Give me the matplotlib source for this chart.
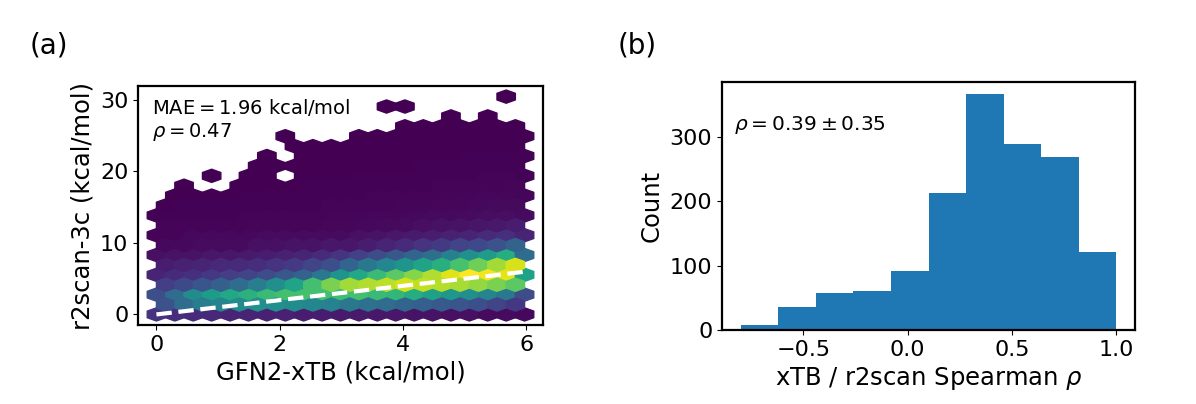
import numpy as np
import matplotlib
matplotlib.use('Agg')
import matplotlib.pyplot as plt

# panel (a): hexbin counts, one list per hexagon row from the bottom up
# (even rows are the main lattice, 21 cells; odd rows the offset lattice, 20 cells)
hex_rows = [
    [151, 131, 121, 111, 101, 101, 91, 91, 81, 81, 71, 71, 61, 61, 51, 51, 41, 41, 31, 31, 21],
    [251, 351, 421, 451, 481, 500, 500, 481, 461, 441, 401, 371, 351, 321, 301, 281, 261, 241, 201, 161],
    [241, 351, 481, 550, 600, 640, 680, 700, 700, 700, 690, 700, 680, 660, 620, 570, 530, 500, 450, 400, 231],
    [181, 221, 261, 301, 351, 421, 500, 580, 700, 800, 860, 880, 900, 930, 910, 890, 870, 840, 800, 750],
    [101, 121, 141, 161, 181, 201, 231, 271, 311, 400, 520, 600, 680, 750, 820, 880, 950, 1000, 980, 960, 570],
    [81, 91, 101, 111, 121, 131, 151, 171, 201, 241, 321, 400, 460, 520, 580, 630, 710, 780, 860, 940],
    [41, 51, 51, 61, 61, 71, 81, 91, 101, 121, 151, 191, 231, 271, 321, 361, 431, 500, 550, 620, 351],
    [21, 21, 31, 31, 31, 41, 41, 51, 51, 61, 61, 81, 101, 121, 151, 171, 201, 221, 251, 311],
    [11, 11, 21, 21, 21, 21, 31, 31, 31, 31, 31, 41, 51, 61, 71, 81, 91, 101, 121, 141, 101],
    [9, 10, 10, 11, 12, 13, 14, 15, 16, 18, 20, 24, 28, 32, 38, 44, 50, 58, 66, 76],
    [5, 6, 7, 8, 8, 9, 10, 10, 11, 12, 13, 15, 17, 19, 22, 25, 28, 32, 36, 40, 30],
    [4, 5, 5, 6, 6, 7, 7, 8, 8, 9, 10, 11, 12, 14, 16, 18, 20, 22, 25, 28],
    [0, 3, 3, 4, 4, 5, 5, 6, 6, 7, 7, 8, 9, 10, 11, 12, 14, 15, 17, 19, 15],
    [0, 2, 0, 0, 3, 3, 4, 4, 5, 5, 6, 6, 7, 8, 8, 9, 10, 11, 12, 13],
    [0, 0, 0, 1, 0, 2, 3, 0, 3, 4, 4, 5, 5, 6, 6, 7, 8, 8, 9, 10, 8],
    [0, 0, 0, 0, 0, 1, 2, 2, 3, 3, 3, 4, 4, 4, 5, 5, 6, 6, 7, 7],
    [0, 0, 0, 0, 0, 0, 1, 0, 2, 2, 2, 3, 3, 3, 4, 4, 4, 5, 5, 6, 5],
    [0, 0, 0, 0, 0, 0, 0, 1, 1, 2, 2, 2, 2, 2, 3, 3, 3, 3, 4, 4],
    [0, 0, 0, 0, 0, 0, 0, 1, 0, 0, 0, 1, 1, 2, 2, 2, 2, 2, 3, 3, 2],
    [0, 0, 0, 0, 0, 0, 0, 0, 0, 0, 0, 0, 0, 1, 1, 1, 1, 1, 2, 1],
    [0, 0, 0, 0, 0, 0, 0, 0, 0, 0, 0, 0, 0, 0, 0, 0, 1, 0, 1, 0, 0],
    [0, 0, 0, 0, 0, 0, 0, 0, 0, 0, 0, 0, 1, 1, 0, 0, 0, 0, 0, 0],
    [0, 0, 0, 0, 0, 0, 0, 0, 0, 0, 0, 0, 0, 0, 0, 0, 0, 0, 0, 1, 0],
]
hex_gridsize = 20
hex_extent = (0.0, 5.97, 0.0, 30.47)   # xtb min/max, r2scan min/max
fit_x = [0.0, 5.97]
fit_y = [0.0, 5.97]
mae_text = r'$\mathrm{MAE} = 1.96$ kcal/mol' + '\n' + r'$\rho = 0.47$'

# panel (b): histogram of per-system Spearman rho
rho_edges = [-0.80, -0.62, -0.44, -0.26, -0.08, 0.10, 0.28, 0.46, 0.64, 0.82, 1.00]
rho_counts = [8, 35, 58, 60, 91, 212, 367, 288, 269, 121]
rho_text = r'$\rho = 0.39 \pm 0.35$'


def hex_cells():
    # put one weighted point at the centre of every non-empty hexagon
    x0, x1, y0, y1 = hex_extent
    sx = (x1 - x0) / hex_gridsize
    sy = (y1 - y0) / int(hex_gridsize / np.sqrt(3))
    xs, ys, cs = [], [], []
    for k, row in enumerate(hex_rows):
        off = 0.5 * (k % 2)
        for i, c in enumerate(row):
            if c > 0:
                xs.append(x0 + (i + off) * sx)
                ys.append(y0 + k * sy / 2)
                cs.append(c)
    return np.array(xs), np.array(ys), np.array(cs, float)


def plot():
    plt.rcParams.update({'font.size': 16,
                         'axes.labelsize': 17.5,
                         'xtick.labelsize': 16,
                         'ytick.labelsize': 16,
                         'axes.linewidth': 1.6})
    fig = plt.figure(figsize=(11.96, 4.04), dpi=100)

    ax1 = fig.add_axes([0.1154, 0.1948, 0.3386, 0.593])
    xs, ys, cs = hex_cells()
    ax1.hexbin(xs, ys, C=cs, gridsize=hex_gridsize, extent=hex_extent,
               reduce_C_function=np.sum, cmap='viridis')
    ax1.plot(fit_x, fit_y, 'w--', lw=3)
    ax1.set_xticks([0, 2, 4, 6])
    ax1.set_yticks([0, 10, 20, 30])
    ax1.set_xlabel('GFN2-xTB (kcal/mol)')
    ax1.set_ylabel('r2scan-3c (kcal/mol)')
    ax1.text(0.035, 0.955, mae_text, transform=ax1.transAxes, fontsize=14,
             va='top', ha='left')

    ax2 = fig.add_axes([0.6037, 0.1832, 0.3453, 0.6146])
    centers = 0.5 * (np.array(rho_edges[:-1]) + np.array(rho_edges[1:]))
    ax2.hist(centers, bins=rho_edges, weights=rho_counts, color='C0')
    ax2.set_xticks([-0.5, 0.0, 0.5, 1.0])
    ax2.set_yticks([0, 100, 200, 300])
    ax2.set_xlabel(r'xTB / r2scan Spearman $\rho$')
    ax2.set_ylabel('Count')
    ax2.text(0.03, 0.87, rho_text, transform=ax2.transAxes, fontsize=14.5,
             va='top', ha='left')

    fig.text(0.025, 0.888, '(a)', fontsize=20, va='center')
    fig.text(0.516, 0.888, '(b)', fontsize=20, va='center')

    fig.savefig('out.png', dpi=100)


if __name__ == '__main__':
    plot()
